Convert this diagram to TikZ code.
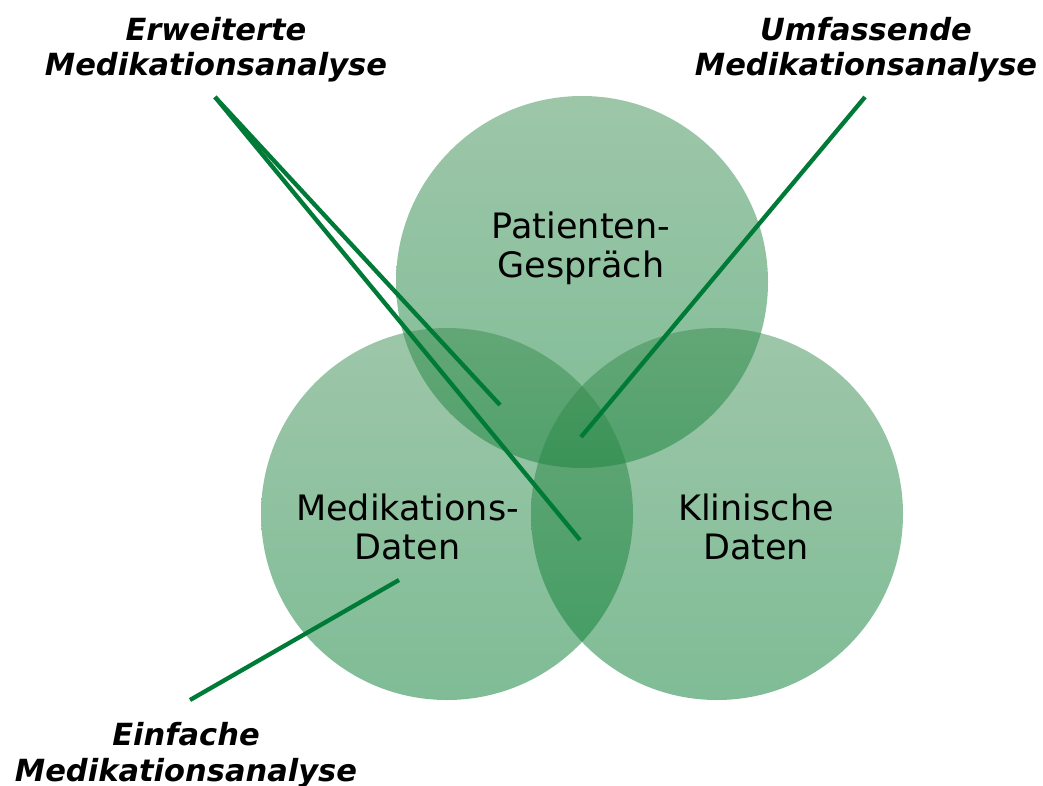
\documentclass[tikz,border=0pt]{standalone}
\usepackage{fontspec}
\setmainfont{DejaVu Sans}
\definecolor{linegreen}{RGB}{0,122,55}
\definecolor{circtop}{RGB}{60,142,82}
\definecolor{circbot}{RGB}{0,122,46}
\tikzset{
  venn/.style={circle, minimum size=372pt, inner sep=0pt, top color=circtop, bottom color=circbot, fill opacity=0.5, draw=none},
  ctext/.style={font=\fontsize{35}{38.5}\selectfont, align=center, text=black, inner sep=0pt, anchor=base},
  anlabel/.style={font=\fontsize{30.5}{35.5}\selectfont\bfseries\itshape, align=center, text=black, inner sep=0pt, anchor=base},
  lead/.style={draw=linegreen, line width=4.3pt}
}
\begin{document}
\begin{tikzpicture}[x=1pt, y=-1pt]
\useasboundingbox (0,0) rectangle (1043,786);
% circles
\node[venn] (cpat) at (582,282) {};
\node[venn] (cmed) at (447,514) {};
\node[venn] (ckli) at (717,514) {};
% circle texts (anchor at baseline of last line)
\node[ctext] (tpat) at (581,277) {Patienten-\\Gespräch};
\node[ctext] (tmed) at (407.5,559) {Medikations-\\Daten};
\node[ctext] (tkli) at (756,559) {Klinische\\Daten};
% labels
\node[anlabel] (lerw) at (216,76) {Erweiterte\\Medikationsanalyse};
\node[anlabel] (lumf) at (866,76) {Umfassende\\Medikationsanalyse};
\node[anlabel] (lein) at (186,781) {Einfache\\Medikationsanalyse};
% connector ends
\coordinate (erwstart) at (215,97);
\coordinate (umfstart) at (865,97);
\coordinate (einstart) at (190,700);
\coordinate (pmend) at (500,405);
\coordinate (allend) at (580,540);
\coordinate (pkend) at (581,437);
\coordinate (medend) at (399,580);
\draw[lead] (erwstart) -- (pmend);
\draw[lead] (erwstart) -- (allend);
\draw[lead] (umfstart) -- (pkend);
\draw[lead] (einstart) -- (medend);
\end{tikzpicture}
\end{document}
